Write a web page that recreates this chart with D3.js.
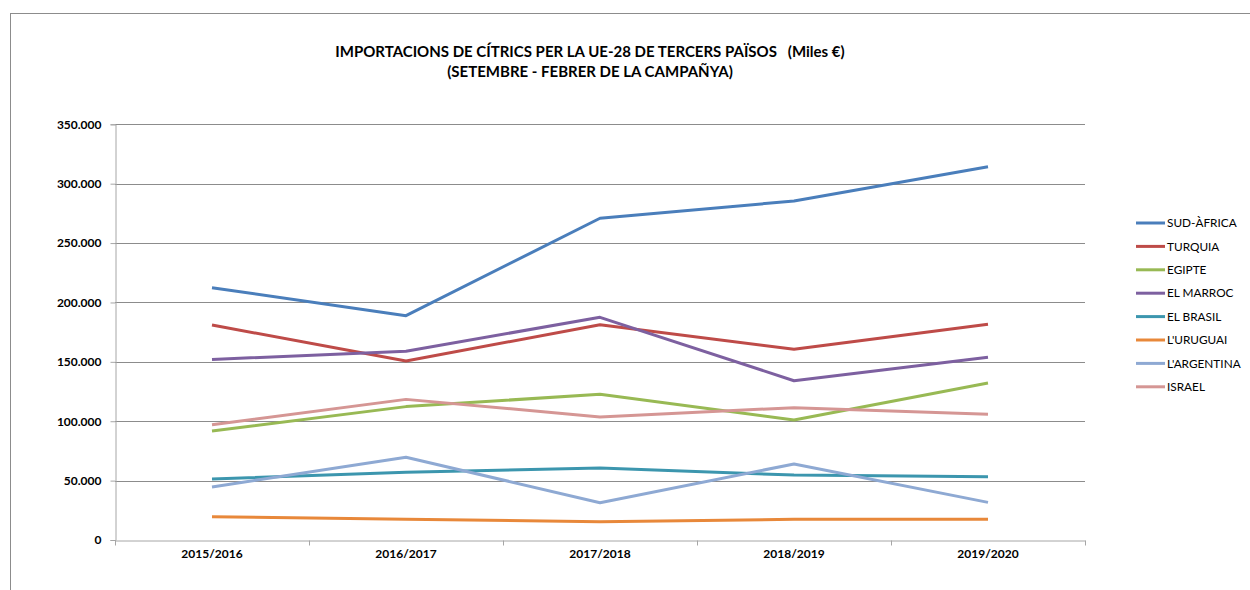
<!DOCTYPE html>
<html>
<head>
<meta charset="utf-8">
<script src="https://cdn.jsdelivr.net/npm/d3@7"></script>
<style>
  body { margin: 0; background: #fff; }
  svg text { font-family: Lato, "Open Sans", sans-serif; fill: #000; }
</style>
</head>
<body>
<div id="chart"></div>
<script>
// campaigns on the x axis
var campaigns = ["2015/2016", "2016/2017", "2017/2018", "2018/2019", "2019/2020"];
var yTicks = [0, 50000, 100000, 150000, 200000, 250000, 300000, 350000];

// imports in thousands of euros
var sudAfrica = [212400, 188900, 270900, 285400, 314300];
var turquia = [181000, 150700, 181300, 160600, 181600];
var egipte = [91800, 112300, 122700, 101000, 132200];
var elMarroc = [152000, 159000, 187500, 134100, 153800];
var elBrasil = [51400, 57000, 60600, 54700, 53300];
var uruguai = [19600, 17400, 15400, 17400, 17400];
var argentina = [44600, 69600, 31400, 64000, 31700];
var israel = [97000, 118400, 103600, 111400, 105800];

var seriesNames = ["SUD-ÀFRICA", "TURQUIA", "EGIPTE", "EL MARROC", "EL BRASIL", "L'URUGUAI", "L'ARGENTINA", "ISRAEL"];
var seriesValues = [sudAfrica, turquia, egipte, elMarroc, elBrasil, uruguai, argentina, israel];
var seriesColors = ["#4a7ebb", "#be4b48", "#98b954", "#7d60a0", "#3c96ae", "#e8883a", "#8ea9d3", "#d59694"];

var W = 1250, H = 590;
var svg = d3.select("#chart").append("svg")
    .attr("width", W)
    .attr("height", H);

// outer chart frame (runs off the right and bottom edge)
svg.append("rect")
    .attr("x", 10.5).attr("y", 13.5)
    .attr("width", 1300).attr("height", 700)
    .attr("fill", "none")
    .attr("stroke", "#8c8c8c");

var plot = { left: 115, right: 1085, top: 124.3, bottom: 540 };

var x = d3.scaleBand()
    .domain(campaigns)
    .range([plot.left, plot.right]);

var y = d3.scaleLinear()
    .domain([0, 350000])
    .range([plot.bottom, plot.top]);

var locale = d3.formatLocale({ decimal: ",", thousands: ".", grouping: [3], currency: ["", "€"] });
var fmt = locale.format(",.0f");

// gridlines
svg.append("g")
    .selectAll("line")
    .data(yTicks.filter(function (d) { return d > 0; }))
    .join("line")
    .attr("x1", plot.left).attr("x2", plot.right)
    .attr("y1", function (d) { return Math.round(y(d)) + 0.5; })
    .attr("y2", function (d) { return Math.round(y(d)) + 0.5; })
    .attr("stroke", "#8c8c8c");

// y axis
var yAxis = d3.axisLeft(y)
    .tickValues(yTicks)
    .tickSize(5)
    .tickPadding(9)
    .tickFormat(fmt);

svg.append("g")
    .attr("transform", "translate(" + (plot.left + 0.5) + ",0)")
    .call(yAxis)
    .call(function (g) {
        g.select(".domain").attr("stroke", "#a6a6a6");
        g.selectAll(".tick line").attr("stroke", "#a6a6a6");
        g.selectAll(".tick text")
            .attr("font-size", "12px")
            .attr("font-weight", "bold")
            .attr("fill", "#000");
    });

// x axis
var xAxis = d3.axisBottom(x)
    .tickSize(0)
    .tickPadding(9);

var gx = svg.append("g")
    .attr("transform", "translate(0," + (plot.bottom + 0.5) + ")")
    .call(xAxis);
gx.select(".domain").attr("stroke", "#a6a6a6");
gx.selectAll(".tick text")
    .attr("font-size", "12px")
    .attr("font-weight", "bold")
    .attr("fill", "#000");
// ticks between categories
gx.selectAll(".sep")
    .data(campaigns.concat(["end"]))
    .join("line")
    .attr("class", "sep")
    .attr("x1", function (d, i) { return Math.round(plot.left + i * x.step()) + 0.5; })
    .attr("x2", function (d, i) { return Math.round(plot.left + i * x.step()) + 0.5; })
    .attr("y1", 0).attr("y2", 5)
    .attr("stroke", "#a6a6a6");

// lines
var line = d3.line()
    .x(function (d, i) { return x(campaigns[i]) + x.bandwidth() / 2; })
    .y(function (d) { return y(d); });

svg.append("g")
    .selectAll("path")
    .data(seriesValues)
    .join("path")
    .attr("fill", "none")
    .attr("stroke", function (d, i) { return seriesColors[i]; })
    .attr("stroke-width", 3)
    .attr("stroke-linejoin", "round")
    .attr("d", line);

// legend
var legend = svg.append("g")
    .attr("transform", "translate(1136,223)");

var item = legend.selectAll("g")
    .data(seriesNames)
    .join("g")
    .attr("transform", function (d, i) { return "translate(0," + (i * 23.4) + ")"; });

item.append("line")
    .attr("x1", 0).attr("x2", 29)
    .attr("stroke", function (d, i) { return seriesColors[i]; })
    .attr("stroke-width", 3);

item.append("text")
    .attr("x", 31)
    .attr("dy", "0.35em")
    .attr("font-size", "11.8px")
    .text(function (d) { return d; });

// title
svg.append("text")
    .attr("x", 590).attr("y", 57)
    .attr("text-anchor", "middle")
    .attr("font-size", "15px")
    .attr("font-weight", "bold")
    .attr("xml:space", "preserve")
    .text("IMPORTACIONS DE CÍTRICS PER LA UE-28 DE TERCERS PAÏSOS   (Miles €)");

svg.append("text")
    .attr("x", 590).attr("y", 77)
    .attr("text-anchor", "middle")
    .attr("font-size", "15px")
    .attr("font-weight", "bold")
    .text("(SETEMBRE - FEBRER DE LA CAMPAÑYA)");
</script>
</body>
</html>
